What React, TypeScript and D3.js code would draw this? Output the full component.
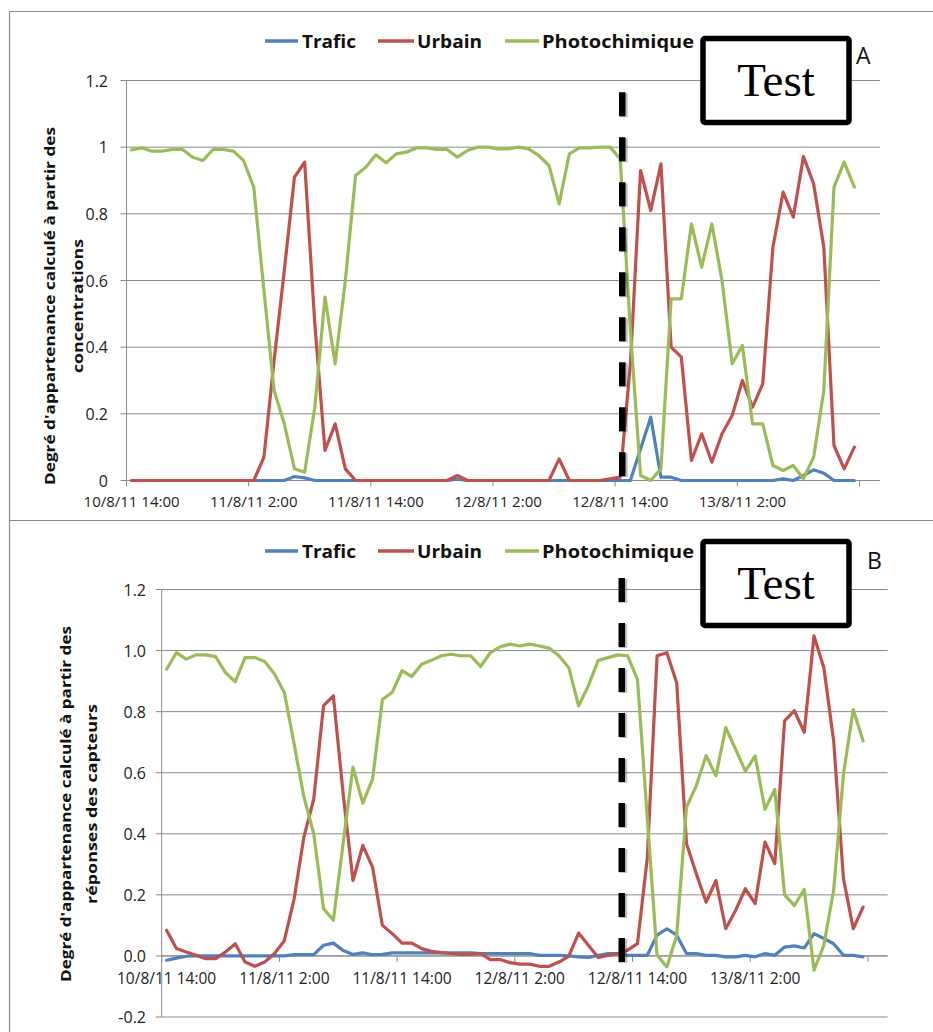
import React from "react";
import * as d3 from "d3";

// ---------- data ----------
const xTickLabels = ["10/8/11 14:00", "11/8/11 2:00", "11/8/11 14:00", "12/8/11 2:00", "12/8/11 14:00", "13/8/11 2:00"];
const categoryCount = 74; // hourly slots on the category axis
const labelEvery = 12;
const seriesNames = ["Trafic", "Urbain", "Photochimique"];
const seriesColors = ["#4F81BD", "#C0504D", "#9BBB59"];

const traficA = [
  0, 0, 0, 0, 0, 0, 0, 0, 0, 0, 0, 0, 0, 0, 0, 0, 0.012, 0.008, 0, 0, 0, 0, 0, 0,
  0, 0, 0, 0, 0, 0, 0, 0, 0.004, 0, 0, 0, 0, 0, 0, 0, 0, 0, 0, 0, 0, 0, 0, 0,
  0, 0, 0.095, 0.19, 0.01, 0.01, 0, 0, 0, 0, 0, 0, 0, 0, 0, 0, 0.005, 0, 0.015, 0.032, 0.022, 0, 0, 0,
];
const urbainA = [
  0, 0, 0, 0, 0, 0, 0, 0, 0, 0, 0, 0, 0, 0.07, 0.36, 0.63, 0.91, 0.955, 0.47, 0.09, 0.17, 0.035, 0, 0,
  0, 0, 0, 0, 0, 0, 0, 0, 0.015, 0, 0, 0, 0, 0, 0, 0, 0, 0, 0.065, 0, 0, 0, 0, 0.005,
  0.01, 0.35, 0.93, 0.81, 0.95, 0.4, 0.37, 0.06, 0.14, 0.055, 0.14, 0.195, 0.3, 0.22, 0.29, 0.7, 0.865, 0.79, 0.972, 0.89, 0.7, 0.105, 0.035, 0.1,
];
const photoA = [
  0.992, 0.998, 0.988, 0.988, 0.993, 0.993, 0.97, 0.96, 0.993, 0.993, 0.988, 0.96, 0.88, 0.57, 0.27, 0.17, 0.035, 0.025, 0.22, 0.55, 0.35, 0.6, 0.915, 0.94,
  0.977, 0.953, 0.98, 0.985, 0.998, 0.998, 0.993, 0.993, 0.97, 0.99, 1.0, 1.0, 0.995, 0.995, 1.0, 0.995, 0.975, 0.945, 0.83, 0.98, 0.998, 0.998, 1.0, 1.0,
  0.965, 0.45, 0.015, 0.0, 0.035, 0.545, 0.545, 0.77, 0.64, 0.77, 0.6, 0.35, 0.405, 0.17, 0.17, 0.045, 0.03, 0.045, 0.005, 0.07, 0.27, 0.88, 0.955, 0.88,
];

const traficB = [
  -0.014, -0.007, -0.001, 0, 0, 0, 0, 0, 0, 0, 0, 0, 0, 0.004, 0.004, 0.004, 0.035, 0.042, 0.018, 0.005, 0.01, 0.004, 0.005, 0.01,
  0.01, 0.01, 0.01, 0.01, 0.01, 0.01, 0.01, 0.01, 0.008, 0.008, 0.008, 0.008, 0.008, 0.008, 0.002, 0.002, 0.002, 0, -0.003, -0.005, 0.002, 0.008, 0.008, 0.002,
  0.002, 0.002, 0.068, 0.089, 0.068, 0.008, 0.008, 0.002, 0.002, -0.003, -0.003, 0.002, -0.003, 0.008, 0.002, 0.029, 0.033, 0.026, 0.073, 0.057, 0.04, 0.002, 0.002, -0.003,
];
const urbainB = [
  0.084, 0.024, 0.013, 0.002, -0.009, -0.009, 0.013, 0.04, -0.02, -0.034, -0.02, 0.008, 0.05, 0.187, 0.39, 0.514, 0.82, 0.852, 0.53, 0.247, 0.362, 0.29, 0.1, 0.073,
  0.042, 0.042, 0.024, 0.015, 0.011, 0.008, 0.005, 0.005, 0.008, -0.012, -0.012, -0.022, -0.027, -0.027, -0.034, -0.034, -0.02, -0.001, 0.075, 0.035, -0.005, 0.002, 0.008, 0.019,
  0.04, 0.32, 0.983, 0.993, 0.895, 0.367, 0.269, 0.176, 0.247, 0.089, 0.149, 0.22, 0.171, 0.373, 0.302, 0.77, 0.803, 0.732, 1.048, 0.944, 0.705, 0.253, 0.089, 0.16,
];
const photoB = [
  0.939, 0.993, 0.972, 0.986, 0.986, 0.98, 0.928, 0.898, 0.977, 0.977, 0.964, 0.923, 0.863, 0.694, 0.52, 0.4, 0.155, 0.117, 0.37, 0.618, 0.5, 0.58, 0.84, 0.863,
  0.934, 0.915, 0.955, 0.968, 0.983, 0.988, 0.983, 0.983, 0.948, 0.993, 1.012, 1.021, 1.015, 1.021, 1.015, 1.008, 0.983, 0.944, 0.819, 0.885, 0.968, 0.977, 0.986, 0.983,
  0.906, 0.454, 0.002, -0.036, 0.067, 0.487, 0.558, 0.656, 0.59, 0.748, 0.677, 0.605, 0.655, 0.48, 0.545, 0.2, 0.165, 0.218, -0.047, 0.035, 0.215, 0.596, 0.807, 0.704,
];

const yTicksA = [0, 0.2, 0.4, 0.6, 0.8, 1, 1.2];
const yTickLabelsA = ["0", "0.2", "0.4", "0.6", "0.8", "1", "1.2"];
const yTicksB = [-0.2, 0, 0.2, 0.4, 0.6, 0.8, 1.0, 1.2];
const yTickLabelsB = ["-0.2", "0.0", "0.2", "0.4", "0.6", "0.8", "1.0", "1.2"];

const titleA = ["Degré d'appartenance calculé à partir des", "concentrations"];
const titleB = ["Degré d'appartenance calculé à partir des", "réponses des capteurs"];

// ---------- layout ----------
const FONT = "'Open Sans', 'Noto Sans', sans-serif";
const GRID = "#8a8a8a";

type PanelCfg = {
  series: number[][];
  left: number; right: number; yTop: number; yBottom: number;
  yDomain: [number, number];
  yTicks: number[]; yTickLabels: string[];
  labelRight: number; xLabelY: number; xLabelSize: number;
  legendY: number;
  titleLines: string[]; titleX: number[]; titleCY: number; titleLen: number[];
  box: { x: number; y: number; w: number; h: number; textY: number };
  letter: string; letterX: number; letterY: number;
  divider: { cat: number; v0: number; v1: number };
};

const panels: PanelCfg[] = [
  {
    series: [traficA, urbainA, photoA],
    left: 126.5, right: 879.8, yTop: 80.5, yBottom: 480.5, yDomain: [0, 1.2],
    yTicks: yTicksA, yTickLabels: yTickLabelsA,
    labelRight: 108, xLabelY: 501, xLabelSize: 15,
    legendY: 41,
    titleLines: titleA, titleX: [49, 77], titleCY: 306, titleLen: [358, 134],
    box: { x: 703, y: 38.5, w: 146, h: 84, textY: 96 },
    letter: "A", letterX: 856, letterY: 64,
    divider: { cat: 48.7, v0: 1.165, v1: -0.005 },
  },
  {
    series: [traficB, urbainB, photoB],
    left: 161.7, right: 887.6, yTop: 589.5, yBottom: 1017, yDomain: [-0.2, 1.2],
    yTicks: yTicksB, yTickLabels: yTickLabelsB,
    labelRight: 146, xLabelY: 978, xLabelSize: 15.5,
    legendY: 551,
    titleLines: titleB, titleX: [65, 91], titleCY: 804, titleLen: [356, 200],
    box: { x: 703, y: 541.5, w: 146, h: 84, textY: 599 },
    letter: "B", letterX: 867, letterY: 569,
    divider: { cat: 46.9, v0: 1.238, v1: -0.022 },
  },
];

const legendLayout = [
  { lx0: 265, lx1: 298, tx: 302, tw: 54 },
  { lx0: 378, lx1: 414, tx: 417, tw: 65 },
  { lx0: 505, lx1: 539, tx: 542, tw: 152 },
];

function Panel({ cfg }: { cfg: PanelCfg }) {
  const cats = d3.range(categoryCount);
  const xb = d3.scaleBand<number>().domain(cats).range([cfg.left, cfg.right]).padding(0);
  const bw = xb.bandwidth();
  const xc = (i: number) => (xb(i) as number) + bw / 2;
  const y = d3.scaleLinear().domain(cfg.yDomain).range([cfg.yBottom, cfg.yTop]);
  const y0 = y(0);
  const line = d3.line<number>().x((_, i) => xc(i)).y((d) => y(d));
  const tickCats = cats.filter((i) => i % labelEvery === 0 && i <= 72);
  const dividerX = cfg.left + cfg.divider.cat * bw;

  return (
    <g>
      {/* gridlines */}
      {cfg.yTicks.map((t) => (
        <line key={"g" + t} x1={cfg.left} x2={cfg.right} y1={y(t)} y2={y(t)} stroke={GRID} strokeWidth={1} />
      ))}
      {/* y axis */}
      <line x1={cfg.left} x2={cfg.left} y1={cfg.yTop} y2={cfg.yBottom} stroke={GRID} strokeWidth={1} />
      {cfg.yTicks.map((t, k) => (
        <g key={"yt" + t}>
          <line x1={cfg.left - 6} x2={cfg.left} y1={y(t)} y2={y(t)} stroke={GRID} strokeWidth={1} />
          <text x={cfg.labelRight} y={y(t)} textAnchor="end" dominantBaseline="central" fontFamily={FONT} fontSize={16} fill="#222">
            {cfg.yTickLabels[k]}
          </text>
        </g>
      ))}
      {/* x axis at 0 */}
      <line x1={cfg.left} x2={cfg.right} y1={y0} y2={y0} stroke={GRID} strokeWidth={1} />
      {tickCats.map((i) => (
        <line key={"xt" + i} x1={xb(i) as number} x2={xb(i) as number} y1={y0} y2={y0 + 6} stroke={GRID} strokeWidth={1} />
      ))}
      {xTickLabels.map((lab, k) => (
        <text key={"xl" + k} x={xc(k * labelEvery)} y={cfg.xLabelY} textAnchor="middle" dominantBaseline="central" fontFamily={FONT} fontSize={cfg.xLabelSize} fill="#222">
          {lab}
        </text>
      ))}
      {/* series */}
      {cfg.series.map((s, k) => (
        <path key={"s" + k} d={line(s) || ""} fill="none" stroke={seriesColors[k]} strokeWidth={3.2} strokeLinejoin="round" strokeLinecap="round" />
      ))}
      {/* dashed divider */}
      <line x1={dividerX + 1.5} x2={dividerX + 1.5} y1={y(cfg.divider.v0) + 1} y2={y(cfg.divider.v1) + 1} stroke="#000" strokeOpacity={0.25} strokeWidth={8} strokeDasharray="24 21" />
      <line x1={dividerX} x2={dividerX} y1={y(cfg.divider.v0)} y2={y(cfg.divider.v1)} stroke="#000" strokeWidth={6.5} strokeDasharray="24 21" />
      {/* legend */}
      {seriesNames.map((n, k) => (
        <g key={"lg" + k}>
          <line x1={legendLayout[k].lx0} x2={legendLayout[k].lx1} y1={cfg.legendY} y2={cfg.legendY} stroke={seriesColors[k]} strokeWidth={3.5} />
          <text x={legendLayout[k].tx} y={cfg.legendY} dominantBaseline="central" fontFamily={FONT} fontWeight="bold" fontSize={17}
            textLength={legendLayout[k].tw} lengthAdjust="spacingAndGlyphs" fill="#111">
            {n}
          </text>
        </g>
      ))}
      {/* y title */}
      {cfg.titleLines.map((t, k) => (
        <text key={"tt" + k} transform={`translate(${cfg.titleX[k]},${cfg.titleCY}) rotate(-90)`} textAnchor="middle" dominantBaseline="central"
          fontFamily={FONT} fontWeight="bold" fontSize={15} textLength={cfg.titleLen[k]} lengthAdjust="spacingAndGlyphs" fill="#111">
          {t}
        </text>
      ))}
      {/* Test box */}
      <rect x={cfg.box.x} y={cfg.box.y} width={cfg.box.w} height={cfg.box.h} rx={2} fill="#fff" stroke="#000" strokeWidth={5.5} />
      <text x={cfg.box.x + cfg.box.w / 2} y={cfg.box.textY} textAnchor="middle" fontFamily="'Liberation Serif', 'DejaVu Serif', serif" fontSize={47} fill="#000">
        Test
      </text>
      <text x={cfg.letterX} y={cfg.letterY} fontFamily={FONT} fontSize={23} fill="#111">
        {cfg.letter}
      </text>
    </g>
  );
}

export default function App() {
  return (
    <svg width={933} height={1032} viewBox="0 0 933 1032" style={{ position: "absolute", left: 0, top: 0, display: "block", background: "#fff" }}>
      <rect x={0} y={0} width={933} height={1032} fill="#fff" />
      {/* panel borders */}
      <line x1={9.5} x2={933} y1={11.5} y2={11.5} stroke={GRID} strokeWidth={1.2} />
      <line x1={9.5} x2={9.5} y1={11.5} y2={1032} stroke={GRID} strokeWidth={1.2} />
      <line x1={9.5} x2={933} y1={520.5} y2={520.5} stroke={GRID} strokeWidth={1.2} />
      {panels.map((p, k) => (
        <Panel key={k} cfg={p} />
      ))}
    </svg>
  );
}
